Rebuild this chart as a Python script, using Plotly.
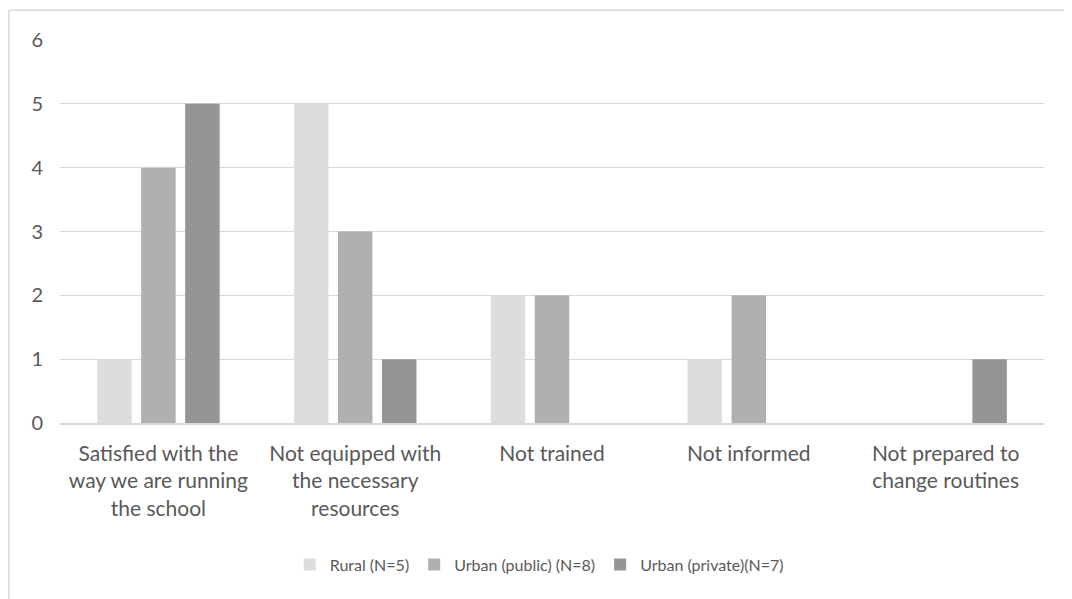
import plotly.graph_objects as go

categories = [
    "Satisfied with the<br>way we are running<br>the school",
    "Not equipped with<br>the necessary<br>resources",
    "Not trained",
    "Not informed",
    "Not prepared to<br>change routines",
]
series_names = ["Rural (N=5)", "Urban (public) (N=8)", "Urban (private)(N=7)"]
rural = [1, 5, 2, 1, 0]
urban_public = [4, 3, 2, 2, 0]
urban_private = [5, 1, 0, 0, 1]
colors = ["#DDDDDD", "#B0B0B0", "#959595"]
y_ticks = [0, 1, 2, 3, 4, 5, 6]

fig = go.Figure()
for name, vals, c in zip(series_names, [rural, urban_public, urban_private], colors):
    fig.add_trace(go.Bar(x=categories, y=vals, name=name, marker=dict(color=c, line=dict(width=0))))

font_fam = "Lato, Open Sans, sans-serif"
# page body has 8px margin; figure placed at (8,8)
fig.update_layout(
    width=1056, height=591,
    margin=dict(l=52, r=20, t=32, b=176),
    paper_bgcolor="white", plot_bgcolor="white",
    barmode="group", bargap=0.329, bargroupgap=0.216,
    font=dict(family=font_fam, color="#595959", size=19),
    legend=dict(orientation="h", x=0.487, xanchor="center", y=-0.37, yanchor="middle",
                font=dict(size=16, color="#595959"), traceorder="normal"),
    xaxis=dict(showgrid=False, showline=True, linecolor="#D9D9D9", linewidth=1.5,
               tickfont=dict(size=21, color="#595959"), ticks="", ticklabelstandoff=11),
    yaxis=dict(range=[0, 6], tickvals=y_ticks, showgrid=True, gridcolor="#D9D9D9",
               gridwidth=1, zeroline=False, showline=False, ticks="",
               tickfont=dict(size=20, color="#595959"), ticklabelstandoff=16),
    shapes=[
        dict(type="line", xref="paper", yref="paper", x0=-0.052, x1=-0.052, y0=-1, y1=1.078,
             line=dict(color="#D9D9D9", width=1.5)),
        dict(type="line", xref="paper", yref="paper", x0=-0.052, x1=1.1, y0=1.078, y1=1.078,
             line=dict(color="#D9D9D9", width=1.5)),
    ],
)
fig.write_html("out.html")
